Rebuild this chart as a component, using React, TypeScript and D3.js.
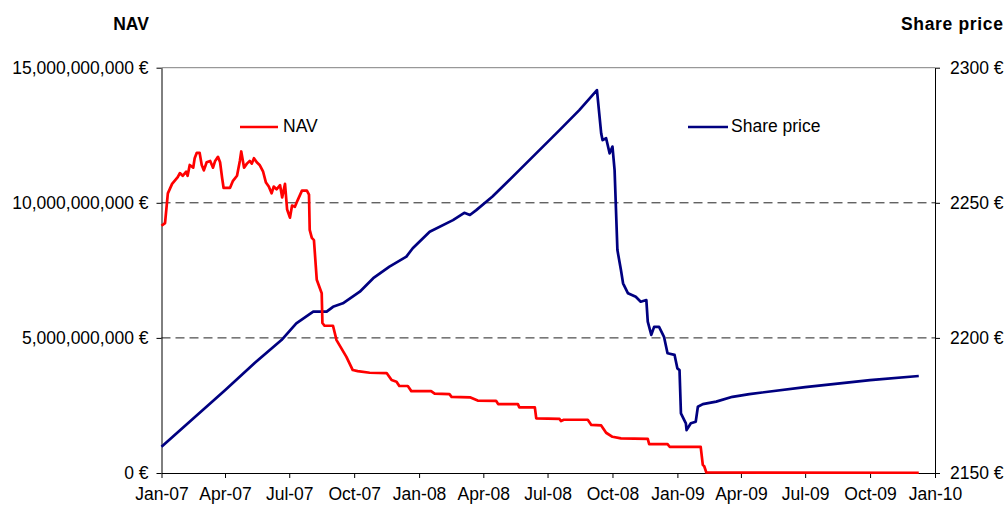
import React, { useRef, useEffect } from "react";
import * as d3 from "d3";

// NAV series (EUR)
const navDates = [
  "2007-01-01", "2007-01-06", "2007-01-10", "2007-01-16", "2007-01-24", "2007-01-27",
  "2007-01-31", "2007-02-05", "2007-02-07", "2007-02-10", "2007-02-15", "2007-02-17",
  "2007-02-20", "2007-02-24", "2007-02-27", "2007-03-02", "2007-03-06", "2007-03-11",
  "2007-03-15", "2007-03-18", "2007-03-22", "2007-03-25", "2007-03-28", "2007-03-30",
  "2007-04-08", "2007-04-12", "2007-04-18", "2007-04-22", "2007-04-24", "2007-04-28",
  "2007-05-02", "2007-05-06", "2007-05-09", "2007-05-12", "2007-05-16", "2007-05-20",
  "2007-05-25", "2007-05-29", "2007-06-02", "2007-06-06", "2007-06-09", "2007-06-13",
  "2007-06-18", "2007-06-21", "2007-06-25", "2007-06-28", "2007-07-02", "2007-07-05",
  "2007-07-09", "2007-07-13", "2007-07-19", "2007-07-26", "2007-07-29", "2007-07-30",
  "2007-08-02", "2007-08-05", "2007-08-09", "2007-08-16", "2007-08-17", "2007-08-20",
  "2007-09-01", "2007-09-06", "2007-09-20", "2007-09-29", "2007-10-06", "2007-10-23",
  "2007-11-16", "2007-11-23", "2007-11-30", "2007-12-04", "2007-12-16", "2007-12-21",
  "2008-01-18", "2008-01-23", "2008-02-13", "2008-02-16", "2008-03-13", "2008-03-24",
  "2008-04-19", "2008-04-22", "2008-05-20", "2008-05-22", "2008-06-13", "2008-06-15",
  "2008-07-18", "2008-07-20", "2008-07-24", "2008-08-27", "2008-09-01", "2008-09-15",
  "2008-09-22", "2008-10-01", "2008-10-13", "2008-11-20", "2008-11-22", "2008-12-18",
  "2008-12-21", "2009-02-03", "2009-02-06", "2009-02-08", "2009-02-11", "2009-12-09",
];
const navValues = [
  9.15e9, 9.25e9, 10.35e9, 10.7e9, 10.95e9, 11.1e9,
  11.0e9, 11.15e9, 11.0e9, 11.4e9, 11.3e9, 11.65e9,
  11.85e9, 11.85e9, 11.4e9, 11.2e9, 11.5e9, 11.55e9,
  11.3e9, 11.55e9, 11.7e9, 11.5e9, 10.9e9, 10.55e9,
  10.55e9, 10.8e9, 11.0e9, 11.55e9, 11.9e9, 11.3e9,
  11.45e9, 11.55e9, 11.45e9, 11.65e9, 11.5e9, 11.4e9,
  11.15e9, 10.75e9, 10.6e9, 10.35e9, 10.6e9, 10.5e9,
  10.65e9, 10.2e9, 10.7e9, 9.75e9, 9.45e9, 9.9e9,
  9.85e9, 10.1e9, 10.45e9, 10.45e9, 10.3e9, 9.0e9,
  8.7e9, 8.62e9, 7.15e9, 6.65e9, 5.55e9, 5.45e9,
  5.45e9, 4.92e9, 4.3e9, 3.81e9, 3.77e9, 3.71e9,
  3.7e9, 3.44e9, 3.38e9, 3.22e9, 3.22e9, 3.03e9,
  3.03e9, 2.94e9, 2.92e9, 2.82e9, 2.8e9, 2.68e9,
  2.67e9, 2.55e9, 2.55e9, 2.43e9, 2.43e9, 2.02e9,
  2.0e9, 1.92e9, 1.97e9, 1.97e9, 1.78e9, 1.76e9,
  1.49e9, 1.34e9, 1.28e9, 1.26e9, 1.07e9, 1.07e9,
  0.97e9, 0.97e9, 0.3e9, 0.25e9, 0.02e9, 0.01e9,
];

// Share price series (EUR)
const priceDates = [
  "2007-01-01", "2007-04-01", "2007-05-13", "2007-06-20", "2007-07-11", "2007-08-04",
  "2007-08-23", "2007-09-01", "2007-09-15", "2007-10-09", "2007-10-28", "2007-11-20",
  "2007-12-14", "2007-12-23", "2008-01-16", "2008-02-18", "2008-03-05", "2008-03-13",
  "2008-03-22", "2008-04-14", "2008-05-22", "2008-07-18", "2008-08-15", "2008-09-09",
  "2008-09-15", "2008-09-17", "2008-09-22", "2008-09-27", "2008-10-01", "2008-10-04",
  "2008-10-08", "2008-10-13", "2008-10-16", "2008-10-23", "2008-11-03", "2008-11-10",
  "2008-11-18", "2008-11-20", "2008-11-25", "2008-11-29", "2008-12-06", "2008-12-13",
  "2008-12-18", "2008-12-28", "2009-01-01", "2009-01-04", "2009-01-06", "2009-01-13",
  "2009-01-14", "2009-01-20", "2009-01-27", "2009-01-30", "2009-02-06", "2009-02-25",
  "2009-03-20", "2009-04-13", "2009-07-01", "2009-10-01", "2009-12-09",
];
const priceValues = [
  2159.7, 2180.6, 2190.7, 2199.2, 2205.4, 2209.7,
  2209.7, 2211.5, 2212.8, 2217.1, 2222.1, 2226.4,
  2230.1, 2233.2, 2239.3, 2243.6, 2246.3, 2245.5,
  2247.3, 2252.3, 2262.1, 2276.9, 2284.3, 2291.7,
  2275.7, 2273.2, 2273.9, 2268.3, 2270.8, 2262.1,
  2232.5, 2225.1, 2220.2, 2216.5, 2215.2, 2213.4,
  2214.0, 2206.0, 2201.1, 2204.1, 2204.1, 2200.4,
  2194.3, 2193.7, 2188.7, 2188.1, 2172.1, 2168.4,
  2165.9, 2168.4, 2169.0, 2174.5, 2175.5, 2176.4,
  2178.2, 2179.2, 2181.8, 2184.4, 2185.9,
];

const navTicks = [0, 5e9, 10e9, 15e9];
const priceTicks = [2150, 2200, 2250, 2300];
const gridTicks = [5e9, 10e9];

const FONT = "'Liberation Sans', Arial, sans-serif";
const FS = 17.5;
const W = 1007;
const H = 506;
const left = 161.5;
const right = 935;
const top = 67.7;
const bottom = 473;

const parse = d3.timeParse("%Y-%m-%d");

const App: React.FC = () => {
  const xAxisRef = useRef<SVGGElement>(null);
  const yLeftRef = useRef<SVGGElement>(null);
  const yRightRef = useRef<SVGGElement>(null);

  const x = d3
    .scaleTime()
    .domain([new Date(2007, 0, 1), new Date(2010, 0, 1)])
    .range([left, right]);
  const yNav = d3.scaleLinear().domain([0, 15e9]).range([bottom, top]);
  const yPrice = d3.scaleLinear().domain([2150, 2300]).range([bottom, top]);

  const navData = navDates.map((d, i) => ({ date: parse(d) as Date, v: navValues[i] }));
  const priceData = priceDates.map((d, i) => ({ date: parse(d) as Date, v: priceValues[i] }));

  const navLine = d3
    .line<{ date: Date; v: number }>()
    .x((d) => x(d.date))
    .y((d) => yNav(d.v));
  const priceLine = d3
    .line<{ date: Date; v: number }>()
    .x((d) => x(d.date))
    .y((d) => yPrice(d.v));

  useEffect(() => {
    const styleAxis = (g: d3.Selection<SVGGElement, unknown, null, undefined>) => {
      g.attr("font-family", null).attr("font-size", null);
      g.selectAll("text")
        .attr("font-family", FONT)
        .attr("font-size", FS)
        .attr("fill", "#000");
      g.selectAll("line").attr("stroke", "#000");
      g.select(".domain").attr("stroke", "#000");
    };

    if (xAxisRef.current) {
      const g = d3.select(xAxisRef.current);
      g.selectAll("*").remove();
      g.call(
        d3
          .axisBottom(x)
          .ticks(d3.timeMonth.every(3))
          .tickFormat((d) => d3.timeFormat("%b-%y")(d as Date))
          .tickSize(5)
          .tickSizeOuter(0)
          .tickPadding(10)
      );
      styleAxis(g);
    }
    if (yLeftRef.current) {
      const g = d3.select(yLeftRef.current);
      g.selectAll("*").remove();
      g.call(
        d3
          .axisLeft(yNav)
          .tickValues(navTicks)
          .tickFormat((d) => d3.format(",")(d as number) + " €")
          .tickSize(5)
          .tickSizeOuter(0)
          .tickPadding(8)
      );
      styleAxis(g);
    }
    if (yRightRef.current) {
      const g = d3.select(yRightRef.current);
      g.selectAll("*").remove();
      g.call(
        d3
          .axisRight(yPrice)
          .tickValues(priceTicks)
          .tickFormat((d) => `${d} €`)
          .tickSize(5)
          .tickSizeOuter(0)
          .tickPadding(10)
      );
      styleAxis(g);
    }
  }, []);

  return (
    <svg
      width={W}
      height={H}
      style={{ position: "absolute", left: 0, top: 0, background: "#fff" }}
    >
      <rect x={0} y={0} width={W} height={H} fill="#fff" />

      {/* top border */}
      <line x1={left} x2={right} y1={top} y2={top} stroke="#808080" strokeWidth={1} />

      {/* dashed gridlines */}
      {gridTicks.map((t) => (
        <line
          key={t}
          x1={left}
          x2={right}
          y1={yNav(t)}
          y2={yNav(t)}
          stroke="#222"
          strokeWidth={1}
          strokeDasharray="9,5"
        />
      ))}

      <g ref={xAxisRef} transform={`translate(0,${bottom})`} />
      <g ref={yLeftRef} transform={`translate(${left},0)`} />
      <g ref={yRightRef} transform={`translate(${right},0)`} />

      {/* series */}
      <path
        d={priceLine(priceData) || ""}
        fill="none"
        stroke="#000080"
        strokeWidth={2.7}
        strokeLinejoin="round"
      />
      <path
        d={navLine(navData) || ""}
        fill="none"
        stroke="#ff0000"
        strokeWidth={2.7}
        strokeLinejoin="round"
      />

      {/* axis titles */}
      <text
        x={131}
        y={30}
        textAnchor="middle"
        fontFamily={FONT}
        fontSize={FS}
        fontWeight="bold"
      >
        NAV
      </text>
      <text
        x={1003}
        y={30}
        textAnchor="end"
        fontFamily={FONT}
        fontSize={FS}
        fontWeight="bold"
        textLength={102}
        lengthAdjust="spacing"
      >
        Share price
      </text>

      {/* legends */}
      <line x1={240} x2={278} y1={127} y2={127} stroke="#ff0000" strokeWidth={2.7} />
      <text x={283} y={132} fontFamily={FONT} fontSize={FS}>
        NAV
      </text>
      <line x1={688} x2={728} y1={127} y2={127} stroke="#000080" strokeWidth={2.7} />
      <text x={731} y={132} fontFamily={FONT} fontSize={FS}>
        Share price
      </text>
    </svg>
  );
};

export default App;
